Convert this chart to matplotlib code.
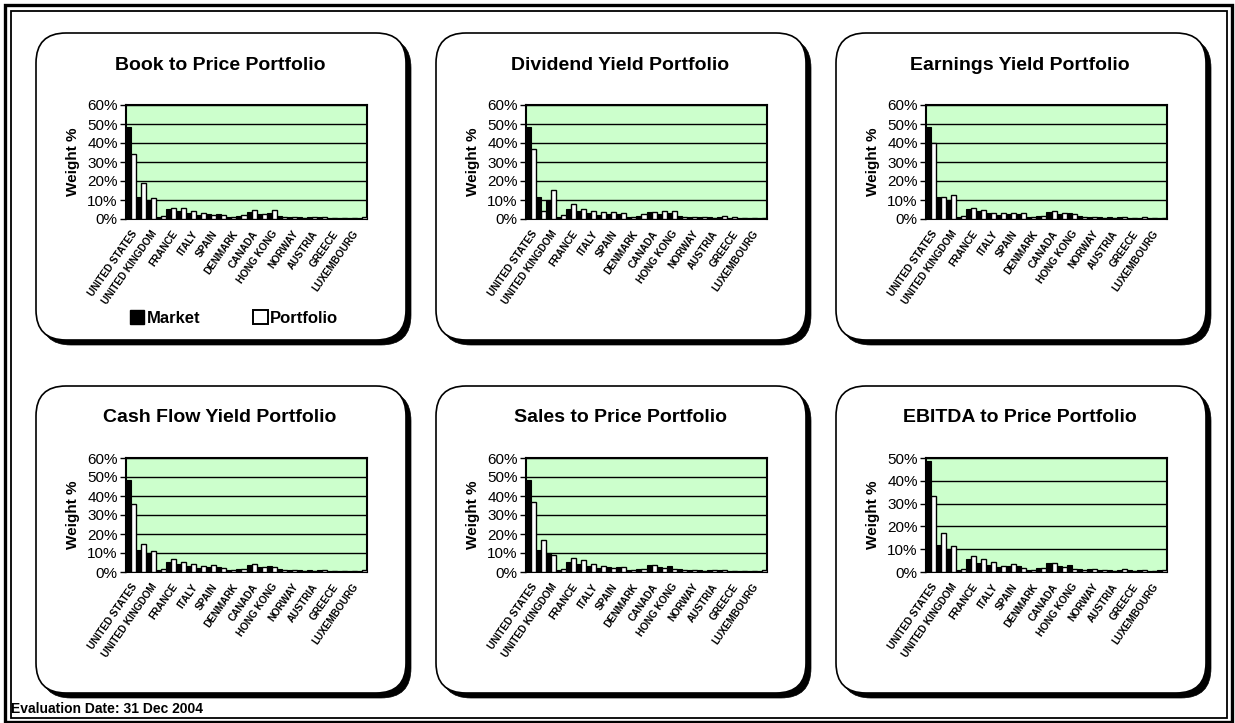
import numpy as np
import matplotlib
matplotlib.use("Agg")
import matplotlib.pyplot as plt
from matplotlib.patches import FancyBboxPatch, Rectangle, Patch
from matplotlib.ticker import FuncFormatter, MultipleLocator

plt.rcParams['font.family'] = ['Liberation Sans', 'DejaVu Sans']

countries = ["UNITED STATES", "JAPAN", "UNITED KINGDOM", "BELGIUM", "FRANCE", "GERMANY",
             "ITALY", "NETHERLANDS", "SPAIN", "SWEDEN", "DENMARK", "FINLAND",
             "CANADA", "AUSTRALIA", "HONG KONG", "SINGAPORE", "NORWAY", "IRELAND",
             "AUSTRIA", "PORTUGAL", "GREECE", "NEW ZEALAND", "LUXEMBOURG", "SWITZERLAND"]

market = [48.5, 11.8, 10.0, 1.0, 5.5, 4.1, 3.0, 2.2, 2.6, 2.8, 1.0, 1.7,
          3.8, 2.8, 2.9, 1.4, 1.3, 0.9, 0.8, 1.0, 0.7, 0.7, 0.5, 0.7]

book_to_price = [34.0, 19.0, 11.2, 1.5, 5.6, 6.0, 4.0, 3.1, 2.3, 2.1, 1.2, 2.1,
                 4.5, 2.4, 4.5, 1.2, 1.2, 0.7, 0.8, 1.2, 0.7, 0.7, 0.3, 0.8]
dividend_yield = [37.0, 4.3, 15.5, 2.0, 7.8, 5.2, 4.3, 3.5, 3.8, 3.1, 0.9, 2.4,
                  3.5, 4.2, 4.3, 1.2, 1.2, 0.8, 0.7, 1.5, 1.0, 0.5, 0.5, 0.6]
earnings_yield = [40.0, 11.5, 12.5, 1.5, 6.0, 4.8, 3.3, 3.2, 3.0, 3.2, 0.9, 1.8,
                  4.2, 3.3, 2.4, 1.0, 1.1, 0.6, 0.6, 1.0, 0.5, 0.9, 0.4, 0.6]
cash_flow_yield = [36.0, 15.0, 11.0, 1.5, 7.0, 5.5, 4.2, 3.2, 3.5, 2.1, 0.8, 1.6,
                   4.2, 2.6, 2.6, 1.2, 1.2, 0.7, 0.7, 1.2, 0.6, 0.6, 0.5, 0.8]
sales_to_price = [37.0, 17.0, 9.0, 1.5, 7.5, 6.3, 4.2, 3.3, 2.1, 2.5, 1.0, 1.8,
                  3.5, 2.0, 1.5, 1.0, 1.3, 0.6, 0.9, 1.2, 0.7, 0.7, 0.4, 0.8]
ebitda_to_price = [33.5, 17.3, 11.3, 1.2, 7.1, 5.6, 4.6, 2.7, 3.7, 1.8, 0.9, 1.6,
                   4.1, 2.4, 1.5, 1.0, 1.1, 0.7, 0.6, 1.5, 0.6, 0.7, 0.5, 0.8]

titles = ["Book to Price Portfolio", "Dividend Yield Portfolio", "Earnings Yield Portfolio",
          "Cash Flow Yield Portfolio", "Sales to Price Portfolio", "EBITDA to Price Portfolio"]
portfolios = [book_to_price, dividend_yield, earnings_yield,
              cash_flow_yield, sales_to_price, ebitda_to_price]
ymaxes = [60, 60, 60, 60, 60, 50]

W, H = 1235, 723
fig = plt.figure(figsize=(W / 100, H / 100), dpi=100)
bg = fig.add_axes([0, 0, 1, 1])
bg.set_xlim(0, W)
bg.set_ylim(H, 0)
bg.axis('off')

# outer double border
bg.add_patch(Rectangle((4.5, 4.5), W - 8, H - 6, fill=False, ec='black', lw=2.4))
bg.add_patch(Rectangle((10.5, 10.5), W - 19, H - 16, fill=False, ec='black', lw=1.3))

bg.text(11, 709, "Evaluation Date: 31 Dec 2004", fontsize=10, fontweight='bold',
        ha='left', va='center')

col_x = [36, 436, 836]
row_y = [33, 386]
pw, ph = 370, 307


def px_axes(x0, y0, w, h):
    return fig.add_axes([x0 / W, 1 - (y0 + h) / H, w / W, h / H])


x = np.arange(len(countries))
for i in range(6):
    r, c = divmod(i, 3)
    px, py = col_x[c], row_y[r]
    # shadow + panel
    bg.add_patch(FancyBboxPatch((px + 5, py + 5), pw, ph,
                                boxstyle="round,pad=0,rounding_size=30",
                                fc='black', ec='black', lw=0.5, zorder=1))
    bg.add_patch(FancyBboxPatch((px, py), pw, ph,
                                boxstyle="round,pad=0,rounding_size=30",
                                fc='white', ec='black', lw=1.2, zorder=2))
    bg.text(px + pw / 2 - 1, py + 32, titles[i], fontsize=14, fontweight='bold',
            ha='center', va='center', zorder=3)

    ax = px_axes(px + 90, py + 72, 241, 114)
    ax.set_facecolor('#CCFFCC')
    ax.bar(x - 0.25, market, width=0.5, color='black', edgecolor='black', lw=0.8, zorder=3)
    ax.bar(x + 0.25, portfolios[i], width=0.5, color='white', edgecolor='black', lw=1.0, zorder=3)
    ax.set_xlim(-0.5, len(countries) - 0.5)
    ax.set_ylim(0, ymaxes[i])
    ax.yaxis.set_major_locator(MultipleLocator(10))
    ax.yaxis.set_major_formatter(FuncFormatter(lambda v, p: f"{v:.0f}%"))
    ax.grid(axis='y', color='black', lw=1.0, zorder=1)
    ax.set_axisbelow(True)
    for s in ax.spines.values():
        s.set_linewidth(1.5)
        s.set_color('black')
    ax.tick_params(axis='y', direction='out', length=4, width=1, labelsize=11, pad=2)
    ax.tick_params(axis='x', length=0, pad=7)
    ax.set_xticks(x[::2])
    ax.set_xticklabels(countries[::2], rotation=55, ha='right', va='top',
                       rotation_mode='anchor', fontsize=7.2, fontweight='bold')
    ax.set_ylabel("Weight %", fontsize=11, fontweight='bold', labelpad=5)

    if i == 0:
        handles = [Patch(fc='black', ec='black', lw=1), Patch(fc='white', ec='black', lw=1.4)]
        bg.legend(handles, ["Market", "Portfolio"], ncol=2, loc='center',
                  bbox_to_anchor=(234 / W, 1 - 318 / H), bbox_transform=fig.transFigure,
                  frameon=False, handlelength=0.85, handleheight=0.85,
                  handletextpad=0.15, columnspacing=3.2,
                  prop={'weight': 'bold', 'size': 12})

fig.savefig("out.png", dpi=100)
